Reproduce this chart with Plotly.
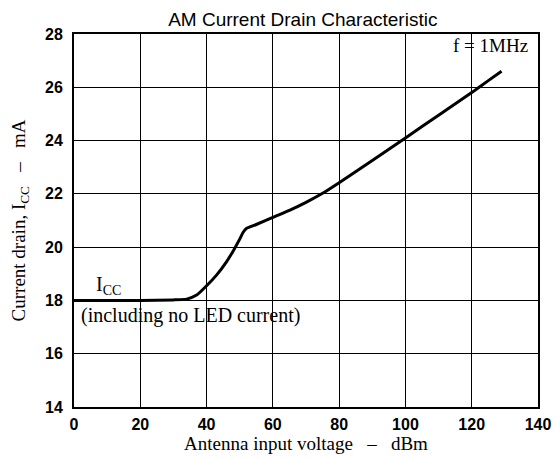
import plotly.graph_objects as go

x_dbm = [0, 10, 20, 30, 34, 37, 40, 43, 46, 48, 50, 51, 52, 55, 60, 65, 70, 75, 80, 90, 100, 110, 120, 125, 129]
icc_ma = [18.0, 18.0, 18.0, 18.02, 18.05, 18.2, 18.55, 18.95, 19.45, 19.85, 20.3, 20.55, 20.7, 20.85, 21.12, 21.38, 21.68, 22.02, 22.42, 23.25, 24.1, 24.95, 25.8, 26.25, 26.6]

x_ticks = [0, 20, 40, 60, 80, 100, 120, 140]
y_ticks = [14, 16, 18, 20, 22, 24, 26, 28]

fig = go.Figure()
fig.add_trace(go.Scatter(x=x_dbm, y=icc_ma, mode="lines",
                         line=dict(color="black", width=3, shape="spline", smoothing=0.5),
                         showlegend=False, hoverinfo="skip"))

tickfont = dict(family="Liberation Sans", size=16, color="black", weight="bold")
sp = "\u00a0\u00a0\u00a0"
fig.update_layout(
    width=552, height=450,
    margin=dict(l=66, r=22, t=26, b=51),
    paper_bgcolor="white", plot_bgcolor="white",
    title=dict(text="AM Current Drain Characteristic", x=0.534, xanchor="center", y=0.975, yanchor="middle",
               xref="container", yref="container",
               font=dict(family="Liberation Sans", size=19, color="black")),
    xaxis=dict(range=[0, 140], tickvals=x_ticks, ticks="", showgrid=True, gridcolor="black", gridwidth=1,
               showline=True, linecolor="black", linewidth=2, mirror=True, zeroline=False,
               tickfont=tickfont, automargin=False, ticklabelstandoff=2,
               title=dict(text="Antenna input voltage" + sp + "–" + sp + "dBm", standoff=0,
                          font=dict(family="Liberation Serif", size=19, color="black"))),
    yaxis=dict(range=[14, 28], tickvals=y_ticks, ticks="", showgrid=True, gridcolor="black", gridwidth=1,
               showline=True, linecolor="black", linewidth=2, mirror=True, zeroline=False,
               tickfont=tickfont, automargin=False, ticklabelstandoff=6,
               title=dict(text="Current drain, I<sub>CC</sub>" + sp + "–" + sp + "mA", standoff=14,
                          font=dict(family="Liberation Serif", size=19, color="black"))),
    annotations=[
        dict(x=137.5, y=27.55, xref="x", yref="y", text="f = 1MHz", showarrow=False, xanchor="right",
             font=dict(family="Liberation Serif", size=19, color="black")),
        dict(x=6, y=18.02, xref="x", yref="y", text="I<sub>CC</sub>", showarrow=False, xanchor="left",
             yanchor="bottom", font=dict(family="Liberation Serif", size=20, color="black")),
        dict(x=1.5, y=17.95, xref="x", yref="y", text="(including no LED current)", showarrow=False,
             xanchor="left", yanchor="top", font=dict(family="Liberation Serif", size=20, color="black")),
    ],
)
fig.write_html("out.html")
